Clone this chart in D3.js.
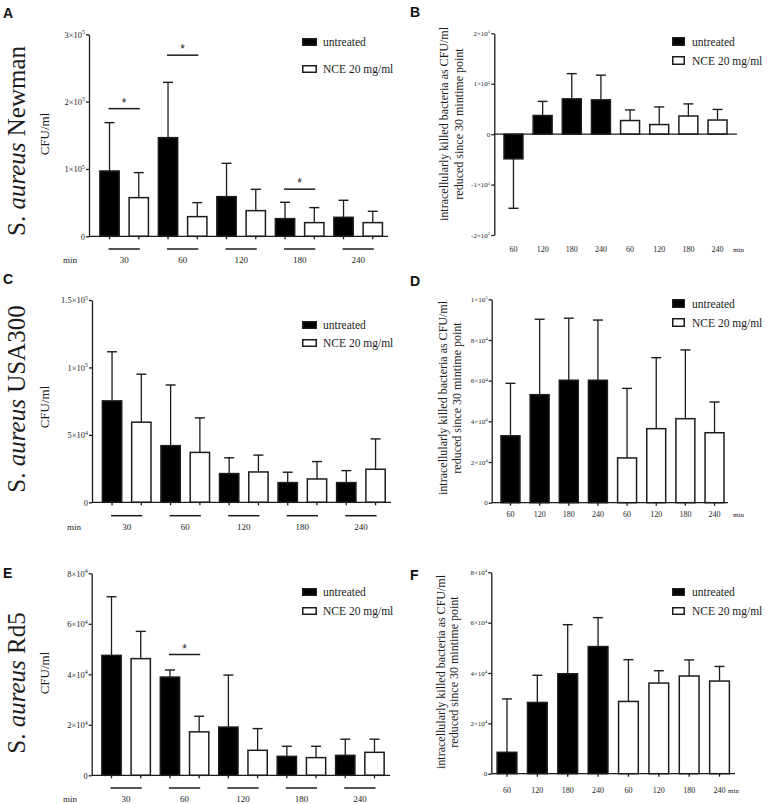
<!DOCTYPE html>
<html><head><meta charset="utf-8">
<script src="https://cdn.jsdelivr.net/npm/d3@7"></script>
<style>body{margin:0;background:#fff} svg{display:block}</style>
</head><body>
<svg id="chart" width="767" height="804"></svg>
<script>
// ---------- DATA ----------
const timePoints = ["30", "60", "120", "180", "240"];
const diffTimePoints = ["60", "120", "180", "240"];
const seriesNames = ["untreated", "NCE 20 mg/ml"];

// Panel A: S. aureus Newman, CFU/ml
const newmanUntreatedMean = [97000, 146500, 58900, 26200, 28200];
const newmanUntreatedErr  = [71800, 82200, 49500, 24300, 25300];
const newmanNceMean       = [57400, 29200, 38100, 20300, 20300];
const newmanNceErr        = [37200, 20800, 31700, 22300, 16800];
const newmanSignificant   = ["30", "60", "180"];
const newmanSigLevel      = [189600, 269000, 70000];
const newmanTicks         = [0, 100000, 200000, 300000];
const newmanTickLabels    = ["0", "1×10^5", "2×10^5", "3×10^5"];

// Panel B: Newman killed since 30 min
const newmanKilledUntreated    = [-49000, 37000, 70000, 68000];
const newmanKilledUntreatedErr = [98000, 28000, 50000, 49000];
const newmanKilledNce          = [27000, 19000, 36000, 28000];
const newmanKilledNceErr       = [21000, 35000, 24000, 21000];
const newmanKilledTicks        = [-200000, -100000, 0, 100000, 200000];
const newmanKilledTickLabels   = ["-2×10^5", "-1×10^5", "0", "1×10^5", "2×10^5"];

// Panel C: S. aureus USA300, CFU/ml
const usaUntreatedMean = [75200, 42000, 21300, 14600, 14600];
const usaUntreatedErr  = [36400, 45000, 11700, 7700, 8900];
const usaNceMean       = [59400, 37000, 22500, 17300, 24500];
const usaNceErr        = [35600, 25600, 12500, 12900, 22500];
const usaTicks         = [0, 50000, 100000, 150000];
const usaTickLabels    = ["0", "5×10^4", "1×10^5", "1.5×10^5"];

// Panel D: USA300 killed since 30 min
const usaKilledUntreated    = [32900, 53100, 60200, 60200];
const usaKilledUntreatedErr = [25800, 37100, 30500, 29600];
const usaKilledNce          = [22000, 36400, 41300, 34400];
const usaKilledNceErr       = [34200, 34900, 33800, 15100];
const usaKilledTicks        = [0, 20000, 40000, 60000, 80000, 100000];
const usaKilledTickLabels   = ["0", "2×10^4", "4×10^4", "6×10^4", "8×10^4", "1×10^5"];

// Panel E: S. aureus Rd5, CFU/ml
const rd5UntreatedMean = [47500, 38900, 19100, 7500, 7900];
const rd5UntreatedErr  = [23200, 2800, 20600, 4000, 6400];
const rd5NceMean       = [46200, 17200, 9900, 7000, 9100];
const rd5NceErr        = [10800, 6200, 8600, 4500, 5200];
const rd5Significant   = ["60"];
const rd5SigLevel      = [47800];
const rd5Ticks         = [0, 20000, 40000, 60000, 80000];
const rd5TickLabels    = ["0", "2×10^4", "4×10^4", "6×10^4", "8×10^4"];

// Panel F: Rd5 killed since 30 min
const rd5KilledUntreated    = [8500, 28300, 39700, 50500];
const rd5KilledUntreatedErr = [21200, 10800, 19500, 11500];
const rd5KilledNce          = [28700, 36000, 38800, 36800];
const rd5KilledNceErr       = [16600, 4900, 6400, 5800];
const rd5KilledTicks        = [0, 20000, 40000, 60000, 80000];
const rd5KilledTickLabels   = ["0", "2×10^4", "4×10^4", "6×10^4", "8×10^4"];

// ---------- DRAWING ----------
const svg = d3.select("#chart");
const serif = "'Liberation Serif','Times New Roman',serif";
const sans = "'Liberation Sans',Arial,sans-serif";
const ink = "#1c1c1c";
const fills = ["#000000", "#ffffff"];

function sciLabel(sel, str, fs) {
  sel.text(null);
  if (str.indexOf("^") < 0) { sel.append("tspan").text(str); return; }
  const [base, exp] = str.split("^");
  sel.append("tspan").text(base);
  sel.append("tspan").attr("dy", -fs * 0.4).attr("font-size", fs * 0.7).text(exp);
}

function styleAxis(g) {
  g.selectAll("path, line").attr("stroke", ink).attr("stroke-width", 1.3);
}

function drawLegend(p) {
  const L = p.legend;
  const g = svg.append("g");
  seriesNames.forEach((s, i) => {
    g.append("rect").attr("x", L.x + 0.75).attr("y", L.y + i * L.gap + 0.75)
      .attr("width", L.w - 1.5).attr("height", L.h - 1.5)
      .attr("fill", fills[i]).attr("stroke", ink).attr("stroke-width", 1.5);
    g.append("text").attr("x", L.textX).attr("y", L.y + i * L.gap + L.h / 2 + 4)
      .attr("font-family", serif).attr("font-size", 11.5).attr("fill", ink).text(s);
  });
}

function drawLetter(p) {
  svg.append("text").attr("x", p.letter.x).attr("y", p.letter.y)
    .attr("font-family", sans).attr("font-weight", "bold").attr("font-size", 14)
    .attr("fill", "#111").text(p.letter.t);
}

function rotText(x, y, fs) {
  return svg.append("text").attr("transform", `translate(${x},${y}) rotate(-90)`)
    .attr("text-anchor", "middle").attr("dy", "0.35em")
    .attr("font-family", serif).attr("font-size", fs).attr("fill", ink);
}

function errorBars(g, data, x, y) {
  const bw = x.bandwidth();
  data.forEach(d => {
    const cx = x(d.key) + bw / 2;
    const end = d.v >= 0 ? d.v + d.e : d.v - d.e;
    g.append("line").attr("x1", cx).attr("x2", cx).attr("y1", y(d.v)).attr("y2", y(end))
      .attr("stroke", ink).attr("stroke-width", 1.3);
    g.append("line").attr("x1", cx - 5).attr("x2", cx + 5).attr("y1", y(end)).attr("y2", y(end))
      .attr("stroke", ink).attr("stroke-width", 1.4);
  });
}

function drawGrouped(p) {
  const g = svg.append("g");
  const data = [];
  timePoints.forEach((t, i) => {
    data.push({key: t + "|0", s: 0, v: p.um[i], e: p.ue[i]});
    data.push({key: t + "|1", s: 1, v: p.nm[i], e: p.ne[i]});
  });
  const x = d3.scaleBand().domain(data.map(d => d.key)).range([p.r0, p.r1])
    .paddingInner(0.34).paddingOuter(0.17);
  const y = d3.scaleLinear().domain([0, p.max]).range([p.yZero, p.yTop]);
  const bw = x.bandwidth();

  errorBars(g, data, x, y);
  g.selectAll("rect.bar").data(data).join("rect").attr("class", "bar")
    .attr("x", d => x(d.key)).attr("width", bw)
    .attr("y", d => y(d.v)).attr("height", d => y(0) - y(d.v))
    .attr("fill", d => fills[d.s]).attr("stroke", ink).attr("stroke-width", 1.5);

  // y axis
  const ya = g.append("g").attr("transform", `translate(${p.axisX},0)`)
    .call(d3.axisLeft(y).tickValues(p.ticks).tickSize(3).tickSizeOuter(0));
  styleAxis(ya);
  ya.selectAll(".tick text").attr("font-family", serif).attr("font-size", 8.5).attr("fill", ink)
    .attr("x", -4).each(function(d, i) { sciLabel(d3.select(this), p.tickLabels[i], 8.5); });

  // x axis
  const xa = g.append("g").attr("transform", `translate(0,${p.yZero})`)
    .call(d3.axisBottom(x).tickSize(3).tickSizeOuter(0).tickFormat(""));
  xa.select(".domain").remove();
  xa.selectAll(".tick text").remove();
  styleAxis(xa);
  g.append("line").attr("x1", p.axisX).attr("x2", p.xEnd).attr("y1", p.yZero).attr("y2", p.yZero)
    .attr("stroke", ink).attr("stroke-width", 1.3);

  // group underlines + labels
  timePoints.forEach(t => {
    const a = x(t + "|0") + bw / 2, b = x(t + "|1") + bw / 2;
    g.append("line").attr("x1", a - 1).attr("x2", b + 1).attr("y1", p.groupLineY).attr("y2", p.groupLineY)
      .attr("stroke", ink).attr("stroke-width", 1.5);
    g.append("text").attr("x", (a + b) / 2).attr("y", p.labelY).attr("text-anchor", "middle")
      .attr("font-family", serif).attr("font-size", 9).attr("fill", ink).text(t);
  });
  g.append("text").attr("x", p.minX).attr("y", p.labelY).attr("font-family", serif)
    .attr("font-size", 9).attr("fill", ink).text("min");

  // significance
  (p.sig || []).forEach((t, i) => {
    const a = x(t + "|0") + bw / 2, b = x(t + "|1") + bw / 2;
    const yy = y(p.sigLevel[i]);
    g.append("line").attr("x1", a - 1).attr("x2", b + 1).attr("y1", yy).attr("y2", yy)
      .attr("stroke", ink).attr("stroke-width", 1.5);
    g.append("text").attr("x", (a + b) / 2).attr("y", yy - 2).attr("text-anchor", "middle")
      .attr("font-family", sans).attr("font-size", 12).attr("fill", ink).text("*");
  });

  // strain label
  const st = rotText(p.strain.x, p.strain.y, p.strain.fs);
  st.append("tspan").text("S. ");
  st.append("tspan").attr("font-style", "italic").text("aureus");
  st.append("tspan").text(" " + p.strain.name);
  rotText(p.cfu.x, p.cfu.y, 13).text("CFU/ml");

  drawLegend(p);
  drawLetter(p);
}

function drawDiff(p) {
  const g = svg.append("g");
  const data = [];
  diffTimePoints.forEach((t, i) => data.push({key: "0|" + t, s: 0, t, v: p.um[i], e: p.ue[i]}));
  diffTimePoints.forEach((t, i) => data.push({key: "1|" + t, s: 1, t, v: p.nm[i], e: p.ne[i]}));
  const x = d3.scaleBand().domain(data.map(d => d.key)).range([p.r0, p.r1])
    .paddingInner(0.35).paddingOuter(0.175);
  const y = d3.scaleLinear().domain([p.min, p.max]).range([p.yBottom, p.yTop]);
  const bw = x.bandwidth();

  errorBars(g, data, x, y);
  g.selectAll("rect.bar").data(data).join("rect").attr("class", "bar")
    .attr("x", d => x(d.key)).attr("width", bw)
    .attr("y", d => Math.min(y(d.v), y(0))).attr("height", d => Math.abs(y(0) - y(d.v)))
    .attr("fill", d => fills[d.s]).attr("stroke", ink).attr("stroke-width", 1.5);

  const ya = g.append("g").attr("transform", `translate(${p.axisX},0)`)
    .call(d3.axisLeft(y).tickValues(p.ticks).tickSize(3).tickSizeOuter(0));
  styleAxis(ya);
  ya.selectAll(".tick text").attr("font-family", serif).attr("font-size", 7).attr("fill", ink)
    .attr("x", -4).each(function(d, i) { sciLabel(d3.select(this), p.tickLabels[i], 7); });

  const y0 = y(0);
  if (p.xTicks) {
    const xa = g.append("g").attr("transform", `translate(0,${y0})`)
      .call(d3.axisBottom(x).tickSize(3).tickSizeOuter(0).tickFormat(""));
    xa.select(".domain").remove();
    xa.selectAll(".tick text").remove();
    styleAxis(xa);
  }
  g.append("line").attr("x1", p.axisX).attr("x2", p.xEnd).attr("y1", y0).attr("y2", y0)
    .attr("stroke", ink).attr("stroke-width", 1.3);

  data.forEach(d => {
    g.append("text").attr("x", x(d.key) + bw / 2).attr("y", p.labelY).attr("text-anchor", "middle")
      .attr("font-family", serif).attr("font-size", 8).attr("fill", ink).text(d.t);
  });
  g.append("text").attr("x", p.minX).attr("y", p.labelY).attr("font-family", serif)
    .attr("font-size", 7).attr("fill", ink).text("min");

  rotText(p.yl.x1, p.yl.y, 12).text("intracellularly killed bacteria as CFU/ml");
  rotText(p.yl.x2, p.yl.y, 12).text("reduced since 30 mintime point");

  drawLegend(p);
  drawLetter(p);
}

// Panel A
drawGrouped({
  um: newmanUntreatedMean, ue: newmanUntreatedErr, nm: newmanNceMean, ne: newmanNceErr,
  sig: newmanSignificant, sigLevel: newmanSigLevel,
  ticks: newmanTicks, tickLabels: newmanTickLabels, max: 300000,
  axisX: 89, yTop: 34.3, yZero: 236.3, r0: 94.9, r1: 387.4, xEnd: 388,
  groupLineY: 249, labelY: 263, minX: 63,
  legend: {x: 302, y: 38, gap: 27, w: 15, h: 8, textX: 323},
  letter: {x: 3, y: 18, t: "A"},
  strain: {x: 16, y: 141, fs: 25, name: "Newman"}, cfu: {x: 44, y: 134}
});
// Panel B
drawDiff({
  um: newmanKilledUntreated, ue: newmanKilledUntreatedErr, nm: newmanKilledNce, ne: newmanKilledNceErr,
  ticks: newmanKilledTicks, tickLabels: newmanKilledTickLabels, min: -200000, max: 200000,
  axisX: 494.3, yTop: 33.3, yBottom: 235, r0: 498.9, r1: 732.1, xEnd: 737, xTicks: false,
  labelY: 252, minX: 733,
  legend: {x: 672, y: 37, gap: 19, w: 13, h: 9, textX: 692},
  letter: {x: 410, y: 17, t: "B"},
  yl: {x1: 444, x2: 459, y: 124}
});
// Panel C
drawGrouped({
  um: usaUntreatedMean, ue: usaUntreatedErr, nm: usaNceMean, ne: usaNceErr,
  ticks: usaTicks, tickLabels: usaTickLabels, max: 150000,
  axisX: 92, yTop: 300, yZero: 502.3, r0: 97.4, r1: 390.2, xEnd: 391,
  groupLineY: 515.7, labelY: 530, minX: 67,
  legend: {x: 302, y: 321, gap: 18, w: 15, h: 8, textX: 323},
  letter: {x: 3, y: 284, t: "C"},
  strain: {x: 16, y: 399, fs: 25, name: "USA300"}, cfu: {x: 44, y: 407}
});
// Panel D
drawDiff({
  um: usaKilledUntreated, ue: usaKilledUntreatedErr, nm: usaKilledNce, ne: usaKilledNceErr,
  ticks: usaKilledTicks, tickLabels: usaKilledTickLabels, min: 0, max: 100000,
  axisX: 491.7, yTop: 299.3, yBottom: 502.7, r0: 495.9, r1: 729.1, xEnd: 728, xTicks: true,
  labelY: 517, minX: 733,
  legend: {x: 672, y: 299, gap: 19, w: 13, h: 9, textX: 692},
  letter: {x: 410, y: 286, t: "D"},
  yl: {x1: 443, x2: 457, y: 398}
});
// Panel E
drawGrouped({
  um: rd5UntreatedMean, ue: rd5UntreatedErr, nm: rd5NceMean, ne: rd5NceErr,
  sig: rd5Significant, sigLevel: rd5SigLevel,
  ticks: rd5Ticks, tickLabels: rd5TickLabels, max: 80000,
  axisX: 91.7, yTop: 573.3, yZero: 775.3, r0: 96.9, r1: 389.1, xEnd: 390,
  groupLineY: 788, labelY: 802, minX: 63,
  legend: {x: 302, y: 588, gap: 19, w: 15, h: 8, textX: 323},
  letter: {x: 3, y: 578, t: "E"},
  strain: {x: 16, y: 683, fs: 25, name: "Rd5"}, cfu: {x: 44, y: 673}
});
// Panel F
drawDiff({
  um: rd5KilledUntreated, ue: rd5KilledUntreatedErr, nm: rd5KilledNce, ne: rd5KilledNceErr,
  ticks: rd5KilledTicks, tickLabels: rd5KilledTickLabels, min: 0, max: 80000,
  axisX: 491.3, yTop: 572.3, yBottom: 773.7, r0: 491.8, r1: 734.7, xEnd: 735, xTicks: true,
  labelY: 793, minX: 728,
  legend: {x: 672, y: 588, gap: 19, w: 13, h: 8, textX: 692},
  letter: {x: 410, y: 580, t: "F"},
  yl: {x1: 441, x2: 454, y: 672}
});
</script>
</body></html>
